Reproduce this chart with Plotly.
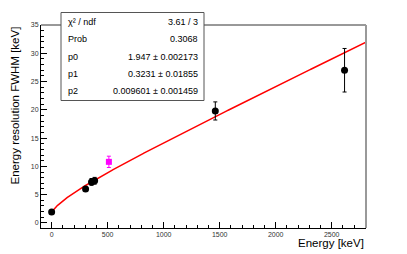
import numpy as np
import plotly.graph_objects as go

# Data
energy = [0, 302.9, 356.0, 383.8, 1460.8, 2614.5]
fwhm = [1.95, 6.0, 7.25, 7.45, 19.8, 27.0]
fwhm_err = [0.15, 0.3, 0.6, 0.6, 1.6, 3.85]
energy_na = [511.0]
fwhm_na = [10.8]
fwhm_na_err = [1.0]
# Fit parameters (from stats box)
p0, p1, p2 = 1.947, 0.3231, 0.009601
stat_labels = ["χ² / ndf", "Prob", "p0", "p1", "p2"]
stat_values = ["3.61 / 3", "0.3068", "1.947 ± 0.002173", "0.3231 ± 0.01855", "0.009601 ± 0.001459"]

xr = [-95, 2806]
yr = [-0.9, 35]

ef = np.linspace(0, 2806, 400)
ff = np.sqrt(p0**2 + p1**2 * ef + p2**2 * ef**2)

fig = go.Figure()
fig.add_trace(go.Scatter(x=ef, y=ff, mode="lines", line=dict(color="#ff0000", width=1.5),
                         hoverinfo="skip", showlegend=False))
fig.add_trace(go.Scatter(x=energy, y=fwhm, mode="markers",
                         marker=dict(color="black", size=7, symbol="circle"),
                         error_y=dict(type="data", array=fwhm_err, color="black", thickness=1, width=2),
                         showlegend=False))
fig.add_trace(go.Scatter(x=energy_na, y=fwhm_na, mode="markers",
                         marker=dict(color="#ff00ff", size=6, symbol="square"),
                         error_y=dict(type="data", array=fwhm_na_err, color="#ff00ff", thickness=1, width=2),
                         showlegend=False))

font = "Liberation Sans, Arial, sans-serif"
# page body has an 8px margin: figure origin sits at (8, 8) in the window
fig.update_layout(
    width=399, height=246,
    margin=dict(l=33, r=41, t=17, b=26, autoexpand=False),
    paper_bgcolor="white", plot_bgcolor="white",
    font=dict(family=font, color="black"),
    xaxis=dict(range=xr, showgrid=False, zeroline=False, showline=True, linecolor="black", linewidth=1,
               ticks="inside", ticklen=6, tickcolor="black", tickvals=[0, 500, 1000, 1500, 2000, 2500],
               tickfont=dict(size=7, color="#333"), automargin=False,
               minor=dict(ticks="inside", ticklen=3, tickcolor="black", dtick=100, tick0=0, showgrid=False)),
    yaxis=dict(range=yr, showgrid=False, zeroline=False, showline=True, linecolor="black", linewidth=1,
               ticks="inside", ticklen=6, tickcolor="black", tickvals=[0, 5, 10, 15, 20, 25, 30, 35],
               tickfont=dict(size=7, color="#333"), automargin=False,
               minor=dict(ticks="inside", ticklen=3, tickcolor="black", dtick=1, tick0=0, showgrid=False)),
)

# frame: top (dark) and right (gray)
fig.add_shape(type="line", xref="paper", yref="paper", x0=0, x1=1, y0=1, y1=1,
              line=dict(color="#333", width=1))
fig.add_shape(type="line", xref="paper", yref="paper", x0=1, x1=1, y0=0, y1=1,
              line=dict(color="#999", width=2))

# window-pixel to paper conversion (plot area spans x 41..366, y 25..228 in the window)
pl, pr, pt, pb = 41, 366, 25, 228
def px(x):
    return (x - pl) / (pr - pl)
def py(y):
    return (pb - y) / (pb - pt)

# axis titles
fig.add_annotation(text="Energy [keV]", xref="paper", yref="paper", x=1, y=py(243),
                   xanchor="right", yanchor="middle", showarrow=False, font=dict(size=11.5, family=font))
fig.add_annotation(text="Energy resolution FWHM [keV]", xref="paper", yref="paper", x=px(14.5), y=1,
                   xanchor="center", yanchor="top", textangle=-90, showarrow=False,
                   font=dict(size=11.5, family=font))

# stats box
fig.add_shape(type="rect", xref="paper", yref="paper", x0=px(61), x1=px(204), y0=py(100.5), y1=py(12.5),
              fillcolor="white", line=dict(color="#555", width=1), layer="above")
rows_y = [22, 39.5, 57, 74, 91]
for lab, val, yy in zip(stat_labels, stat_values, rows_y):
    fig.add_annotation(text=lab, xref="paper", yref="paper", x=px(66), y=py(yy), xanchor="left",
                       yanchor="middle", showarrow=False, font=dict(size=9, family=font))
    fig.add_annotation(text=val, xref="paper", yref="paper", x=px(200), y=py(yy), xanchor="right",
                       yanchor="middle", showarrow=False, font=dict(size=9, family=font))

fig.write_html("out.html")
